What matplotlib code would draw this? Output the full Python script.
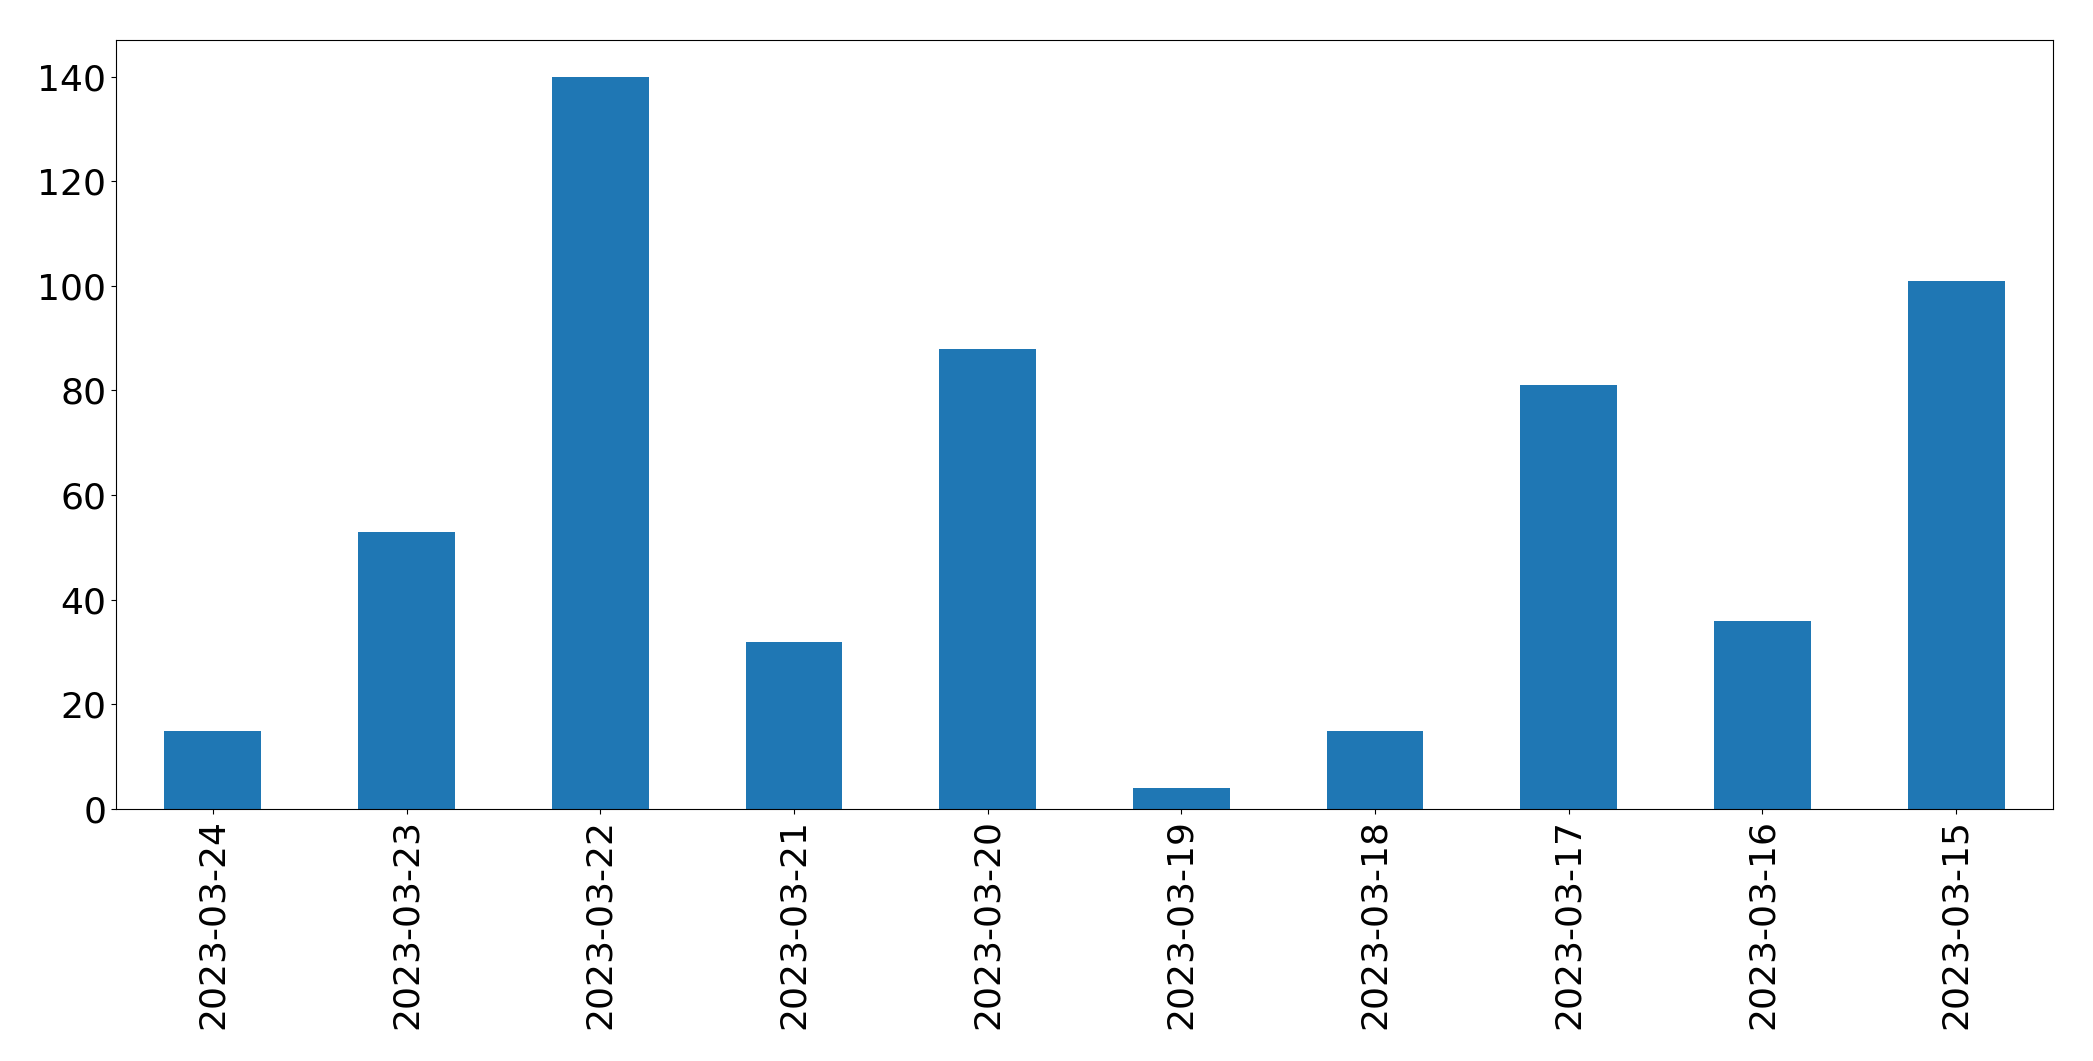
import pandas as pd
import matplotlib
matplotlib.use("Agg")
import matplotlib.pyplot as plt

fechas = ["2023-03-24", "2023-03-23", "2023-03-22", "2023-03-21", "2023-03-20",
          "2023-03-19", "2023-03-18", "2023-03-17", "2023-03-16", "2023-03-15"]
cantidad = [15, 53, 140, 32, 88, 4, 15, 81, 36, 101]

plt.rcParams["font.size"] = 26

serie = pd.Series(cantidad, index=fechas)

fig = plt.figure(figsize=(20.93, 10.61), dpi=100)
ax = fig.add_axes([116 / 2093, 1 - 809 / 1061, (2053 - 116) / 2093, (809 - 40) / 1061])
serie.plot(kind="bar", ax=ax, color="#1f77b4")
ax.tick_params(axis="x", labelrotation=90)

fig.savefig("out.png", dpi=100)
